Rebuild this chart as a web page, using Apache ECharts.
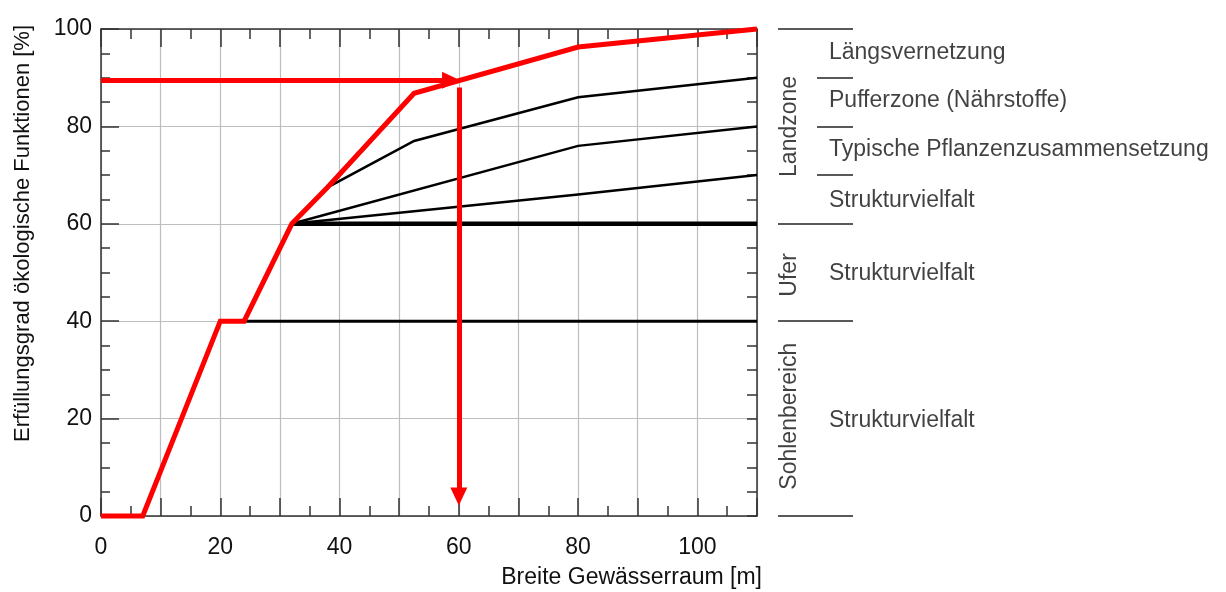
<!DOCTYPE html>
<html>
<head>
<meta charset="utf-8">
<script src="https://cdn.jsdelivr.net/npm/echarts@6/dist/echarts.min.js"></script>
<style>html,body{margin:0;padding:0;background:#fff}#c{width:1226px;height:592px}</style>
</head>
<body>
<div id="c"></div>
<script>
// ---- data ----
const xTicks = [0, 20, 40, 60, 80, 100];
const redCurve = [[0,0],[7,0],[20,40],[24,40],[32,60],[38,67.5],[52.5,86.8],[80,96.3],[110,100]];
const landLine1 = [[32,60],[38,67.5],[52.5,77],[80,86],[110,90]];
const landLine2 = [[32,60],[80,76],[110,80]];
const landLine3 = [[32,60],[52.5,62.6],[80,66],[110,70]];
const uferLine = [[32,60],[110,60]];
const sohleLine = [[24,40],[110,40]];
const readoutArrowH = [[0, 89.5],[58.7, 89.5]];
const readoutArrowV = [[60, 88],[60, 4]];
const zoneBounds = [100, 60, 40, 0];
const subBounds = [90, 80, 70];
const functionLabels = [['Längsvernetzung',95.2],['Pufferzone (Nährstoffe)',85.2],['Typische Pflanzenzusammensetzung',75.2],['Strukturvielfalt',64.8],['Strukturvielfalt',49.8],['Strukturvielfalt',19.6]];
const zoneLabels = [['Landzone',80],['Ufer',49.5],['Sohlenbereich',20.5]];

const FONT = '"Liberation Sans", Arial, sans-serif';
const AX = '#333';
const TXT = '#111';
const chart = echarts.init(document.getElementById('c'), null, {renderer:'canvas'});

const lineBase = (data, color, width, z) => ({
  type:'line', data, xAxisIndex:0, yAxisIndex:0, symbol:'none', clip:false, z,
  lineStyle:{color, width, cap:'butt', join:'miter'}, silent:true, animation:false
});

const sepLines = [];
zoneBounds.forEach(v => sepLines.push([{coord:[0, v]},{coord:[1, v]}]));
subBounds.forEach(v => sepLines.push([{coord:[0.52, v]},{coord:[1, v]}]));

const tickStyle = {color:AX, width:1.5};
const option = {
  animation:false,
  textStyle:{fontFamily:FONT},
  grid:[
    {left:101, right:469, top:29, bottom:76, containLabel:false, outerBoundsMode:'none'},
    {left:778, width:75, top:29, bottom:76, containLabel:false, outerBoundsMode:'none'}
  ],
  xAxis:[
    {type:'value', gridIndex:0, min:0, max:110, interval:10, position:'bottom',
     name:'Breite Gewässerraum [m]', nameLocation:'end', nameGap:5,
     nameTextStyle:{fontSize:23, color:TXT, align:'right', verticalAlign:'top', padding:[50,0,0,0], fontFamily:FONT},
     axisLine:{show:true, onZero:false, lineStyle:{color:AX, width:1.5}},
     axisTick:{show:true, inside:true, length:18, lineStyle:tickStyle},
     minorTick:{show:true, splitNumber:2, length:10, lineStyle:tickStyle},
     splitLine:{show:true, lineStyle:{color:'#bdbdbd', width:1.2}},
     axisLabel:{fontSize:23, color:TXT, margin:20, fontFamily:FONT,
       formatter:v => xTicks.indexOf(v) >= 0 ? String(v) : ''}},
    {type:'value', gridIndex:0, min:0, max:110, interval:10, position:'top',
     axisLine:{show:true, onZero:false, lineStyle:{color:AX, width:1.5}},
     axisTick:{show:true, inside:true, length:18, lineStyle:tickStyle},
     minorTick:{show:true, splitNumber:2, length:10, lineStyle:tickStyle},
     splitLine:{show:false}, axisLabel:{show:false}},
    {type:'value', gridIndex:1, min:0, max:1, show:false}
  ],
  yAxis:[
    {type:'value', gridIndex:0, min:0, max:100, interval:20, position:'left',
     name:'Erfüllungsgrad ökologische Funktionen [%]', nameLocation:'middle', nameGap:67,
     nameTextStyle:{fontSize:22, color:TXT, padding:[0,0,0,78], fontFamily:FONT},
     axisLine:{show:true, onZero:false, lineStyle:{color:AX, width:1.5}},
     axisTick:{show:true, inside:true, length:18, lineStyle:tickStyle},
     minorTick:{show:true, splitNumber:4, length:9, lineStyle:tickStyle},
     splitLine:{show:true, lineStyle:{color:'#bdbdbd', width:1.2}},
     axisLabel:{fontSize:23, color:TXT, margin:9, fontFamily:FONT}},
    {type:'value', gridIndex:0, min:0, max:100, interval:20, position:'right',
     axisLine:{show:true, onZero:false, lineStyle:{color:AX, width:1.5}},
     axisTick:{show:true, inside:true, length:10, lineStyle:tickStyle},
     minorTick:{show:true, splitNumber:4, length:10, lineStyle:tickStyle},
     splitLine:{show:false}, axisLabel:{show:false}},
    {type:'value', gridIndex:1, min:0, max:100, show:false}
  ],
  series:[
    lineBase(sohleLine, '#000', 3, 3),
    lineBase(uferLine, '#000', 4.5, 3),
    lineBase(landLine3, '#000', 2.5, 3),
    lineBase(landLine2, '#000', 2.5, 3),
    lineBase(landLine1, '#000', 2.5, 3),
    lineBase(redCurve, '#ff0000', 5, 5),
    {type:'line', data:[], xAxisIndex:0, yAxisIndex:0, silent:true, z:6,
     markLine:{silent:true, animation:false, symbol:['none','triangle'], symbolSize:[17,18],
       label:{show:false}, emphasis:{disabled:true},
       lineStyle:{color:'#ff0000', width:5, type:'solid'},
       data:[
         [{coord:readoutArrowH[0]},{coord:readoutArrowH[1]}],
         [{coord:readoutArrowV[0]},{coord:readoutArrowV[1]}]
       ]}},
    {type:'scatter', xAxisIndex:2, yAxisIndex:2, symbolSize:0, silent:true,
     data:functionLabels.map(d => ({name:d[0], value:[0.68, d[1]]})),
     label:{show:true, position:'right', distance:0, formatter:'{b}', fontSize:23, color:TXT, fontFamily:FONT},
     markLine:{silent:true, animation:false, symbol:['none','none'], label:{show:false},
       lineStyle:{color:'#222', width:1.5, type:'solid'}, data:sepLines}},
    {type:'scatter', xAxisIndex:2, yAxisIndex:2, symbolSize:0, silent:true,
     data:zoneLabels.map(d => ({name:d[0], value:[0.16, d[1]]})),
     label:{show:true, position:'inside', rotate:90, formatter:'{b}', fontSize:23, color:TXT, fontFamily:FONT, align:'center', verticalAlign:'middle'}}
  ]
};
chart.setOption(option);
</script>
</body>
</html>
